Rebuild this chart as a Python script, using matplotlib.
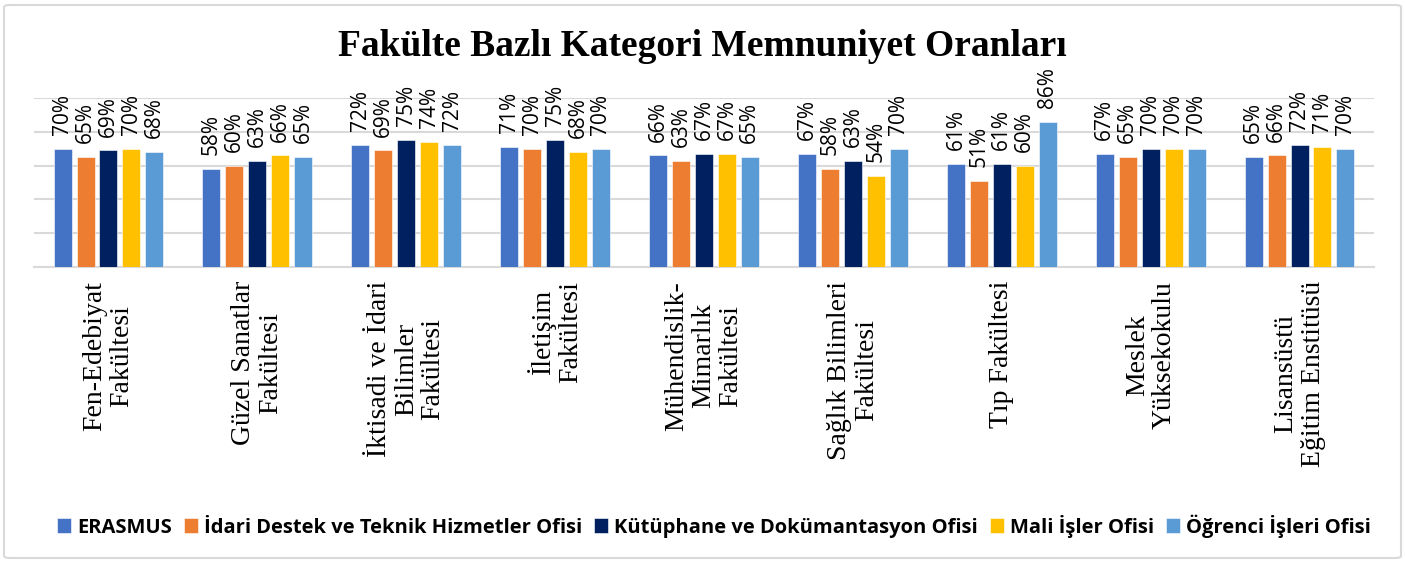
import matplotlib
matplotlib.use("Agg")
import matplotlib.pyplot as plt
import numpy as np
from matplotlib.patches import FancyBboxPatch

categories = [
    "Fen-Edebiyat\nFakültesi",
    "Güzel Sanatlar\nFakültesi",
    "İktisadi ve İdari\nBilimler\nFakültesi",
    "İletişim\nFakültesi",
    "Mühendislik-\nMimarlık\nFakültesi",
    "Sağlık Bilimleri\nFakültesi",
    "Tıp Fakültesi",
    "Meslek\nYüksekokulu",
    "Lisansüstü\nEğitim Enstitüsü",
]
series_names = [
    "ERASMUS",
    "İdari Destek ve Teknik Hizmetler Ofisi",
    "Kütüphane ve Dokümantasyon Ofisi",
    "Mali İşler Ofisi",
    "Öğrenci İşleri Ofisi",
]
erasmus = [70, 58, 72, 71, 66, 67, 61, 67, 65]
idari = [65, 60, 69, 70, 63, 58, 51, 65, 66]
kutuphane = [69, 63, 75, 75, 67, 63, 61, 70, 72]
mali = [70, 66, 74, 68, 67, 54, 60, 70, 71]
ogrenci = [68, 65, 72, 70, 65, 70, 86, 70, 70]
series_values = [erasmus, idari, kutuphane, mali, ogrenci]
colors = ["#4472C4", "#ED7D31", "#002060", "#FFC000", "#5B9BD5"]
title = "Fakülte Bazlı Kategori Memnuniyet Oranları"

fig = plt.figure(figsize=(14.05, 5.62), dpi=100)
ax = fig.add_axes([34/1405, 1-267/562, (1374-34)/1405, (267-98)/562])

n = len(categories)
x = np.arange(n)
bw = 0.121
stride = 0.154
for i, (name, vals, c) in enumerate(zip(series_names, series_values, colors)):
    pos = x + (i - 2) * stride
    ax.bar(pos, vals, width=bw, color=c, label=name, zorder=3,
           edgecolor="white", linewidth=0.4)
    for p, v in zip(pos, vals):
        ax.annotate(f"{v}%", (p, v), xytext=(0, 10), textcoords="offset points",
                    rotation=90, ha="center", va="bottom",
                    fontsize=15, family="Open Sans", color="black")

ax.set_xlim(-0.5, n - 0.5)
ax.set_ylim(0, 100)
ax.set_yticks([0, 20, 40, 60, 80, 100])
ax.yaxis.grid(True, color="#d9d9d9", linewidth=1.5, zorder=0)
ax.set_yticklabels([])
ax.tick_params(axis="y", length=0)
ax.tick_params(axis="x", length=0, pad=10)
ax.set_xticks(x)
ax.set_xticklabels(categories, rotation=90, ha="center", va="top",
                   family="Liberation Serif", fontsize=20, linespacing=1.1)
for s in ["top", "right", "left"]:
    ax.spines[s].set_visible(False)
ax.spines["bottom"].set_color("#d9d9d9")
ax.spines["bottom"].set_linewidth(1.5)

fig.text(0.5, 1-47/562, title, ha="center", va="center",
         family="Liberation Serif", fontweight="bold", fontsize=27)

leg = fig.legend(loc="center", bbox_to_anchor=(714/1405, 1-526/562), ncol=5,
                 frameon=False, handlelength=0.7, handleheight=0.75,
                 handletextpad=0.3, columnspacing=0.6,
                 prop={"family": "Open Sans", "weight": "bold", "size": 14.5})

border = FancyBboxPatch((4/1405, 4/562), 1397/1405, 553/562,
                        boxstyle="round,pad=0,rounding_size=0.004",
                        transform=fig.transFigure, fill=False,
                        edgecolor="#d9d9d9", linewidth=1.5)
fig.patches.append(border)

fig.savefig("out.png", dpi=100, facecolor="white")
